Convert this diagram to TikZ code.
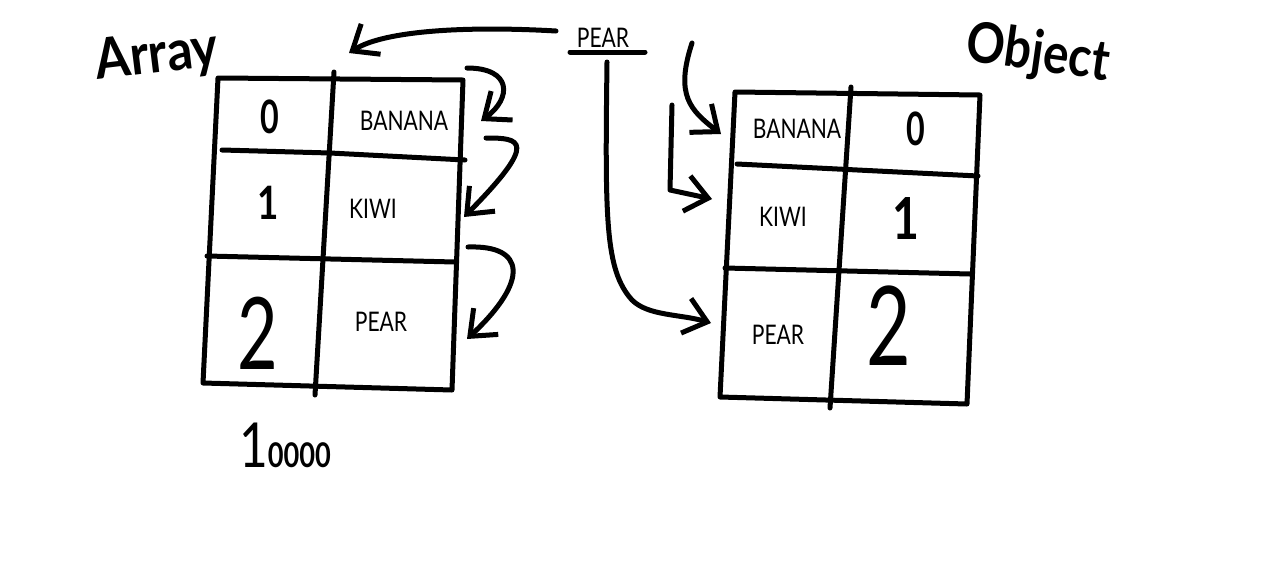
\documentclass[tikz,border=0pt]{standalone}
\usepackage{fontspec}
\setmainfont{Lato}
\usetikzlibrary{arrows.meta}
\begin{document}
\begin{tikzpicture}[x=1pt,y=-1pt,
  hand/.style={line width=5pt,line cap=round,line join=round},
  harrow/.style={hand,-{Straight Barb[length=22pt,width=36pt]}},
  lbl/.style={inner sep=0pt,font=\fontsize{27}{27}\selectfont},
  digit/.style={inner sep=0pt,font=\fontsize{#1}{#1}\selectfont\bfseries},
  title/.style={inner sep=0pt,font=\fontsize{56}{56}\selectfont\bfseries}]
\useasboundingbox (0,0) rectangle (1280,574);

% ---------- left table (Array) ----------
\draw[hand] (218,78) -- (463,80) -- (452,390) -- (203,383) -- cycle;
\draw[hand] (334,72) -- (315,395);
\draw[hand] (222,150) -- (330,153) -- (465,160);
\draw[hand] (207,256) -- (455,262);

% ---------- right table (Object) ----------
\draw[hand] (735,92) -- (980,95) -- (967,404) -- (720,397) -- cycle;
\draw[hand] (851,87) -- (830,408);
\draw[hand] (737,164) -- (978,176);
\draw[hand] (725,268) -- (970,274);

% ---------- titles ----------
\node[title,rotate=7] (tarray) at (157,57) {\scalebox{0.9}[1]{Array}};
\node[title,rotate=-8] (tobject) at (1038,55) {\scalebox{0.85}[1]{Object}};
\node[inner sep=0pt] (count) at (285,445) {\fontsize{62}{62}\selectfont\scalebox{0.8}[1]{1}\fontsize{34}{34}\selectfont\bfseries\scalebox{0.8}[1]{0000}};

% ---------- left cells ----------
\node[digit=46] (l0) at (270,117) {\scalebox{0.7}[1]{0}};
\node[digit=46] (l1) at (268,203) {\scalebox{0.8}[1]{1}};
\node[inner sep=0pt,font=\fontsize{100}{100}\selectfont] (l2) at (258,333) {\scalebox{0.7}[1]{2}};
\node[lbl] (lbanana) at (404,121) {\scalebox{0.78}[1]{BANANA}};
\node[lbl] (lkiwi) at (373,209) {\scalebox{0.78}[1]{KIWI}};
\node[lbl] (lpear) at (381,322) {\scalebox{0.78}[1]{PEAR}};

% ---------- right cells ----------
\node[lbl] (rbanana) at (797,129) {\scalebox{0.78}[1]{BANANA}};
\node[lbl] (rkiwi) at (783,217) {\scalebox{0.78}[1]{KIWI}};
\node[lbl] (rpear) at (778,335) {\scalebox{0.78}[1]{PEAR}};
\node[digit=46] (r0) at (916,129) {\scalebox{0.7}[1]{0}};
\node[digit=58] (r1) at (906,218) {\scalebox{0.8}[1]{1}};
\node[inner sep=0pt,font=\fontsize{110}{110}\selectfont] (r2) at (889,326) {\scalebox{0.7}[1]{2}};

% ---------- inserted key ----------
\node[lbl] (pear) at (603,38) {\scalebox{0.78}[1]{PEAR}};
\coordinate (ulA) at (570,52);
\coordinate (ulB) at (645,52);
\draw[hand] (ulA) -- (ulB);

% ---------- arrows ----------
\coordinate (a1s) at (556,31);  \coordinate (a1e) at (349,53);
\draw[harrow] (a1s) .. controls (470,26) and (385,30) .. (a1e);

\coordinate (b1s) at (467,68);  \coordinate (b1e) at (481,121);
\draw[harrow] (b1s) .. controls (512,68) and (512,98) .. (b1e);
\coordinate (b2s) at (486,138); \coordinate (b2e) at (464,217);
\draw[harrow] (b2s) .. controls (520,138) and (540,140) .. (b2e);
\coordinate (b3s) at (468,247); \coordinate (b3e) at (467,339);
\draw[harrow] (b3s) .. controls (525,245) and (530,280) .. (b3e);

\coordinate (c1s) at (692,43);  \coordinate (c1e) at (721,134);
\draw[harrow] (c1s) .. controls (675,95) and (690,110) .. (c1e);
\coordinate (c2s) at (672,105); \coordinate (c2e) at (712,199);
\draw[harrow] (c2s) -- (670,190) -- (c2e);
\coordinate (c3s) at (607,62);  \coordinate (c3e) at (711,323);
\draw[harrow] (c3s) .. controls (605,220) and (605,270) .. (632,300)
   .. controls (648,316) and (680,314) .. (c3e);
\end{tikzpicture}
\end{document}
